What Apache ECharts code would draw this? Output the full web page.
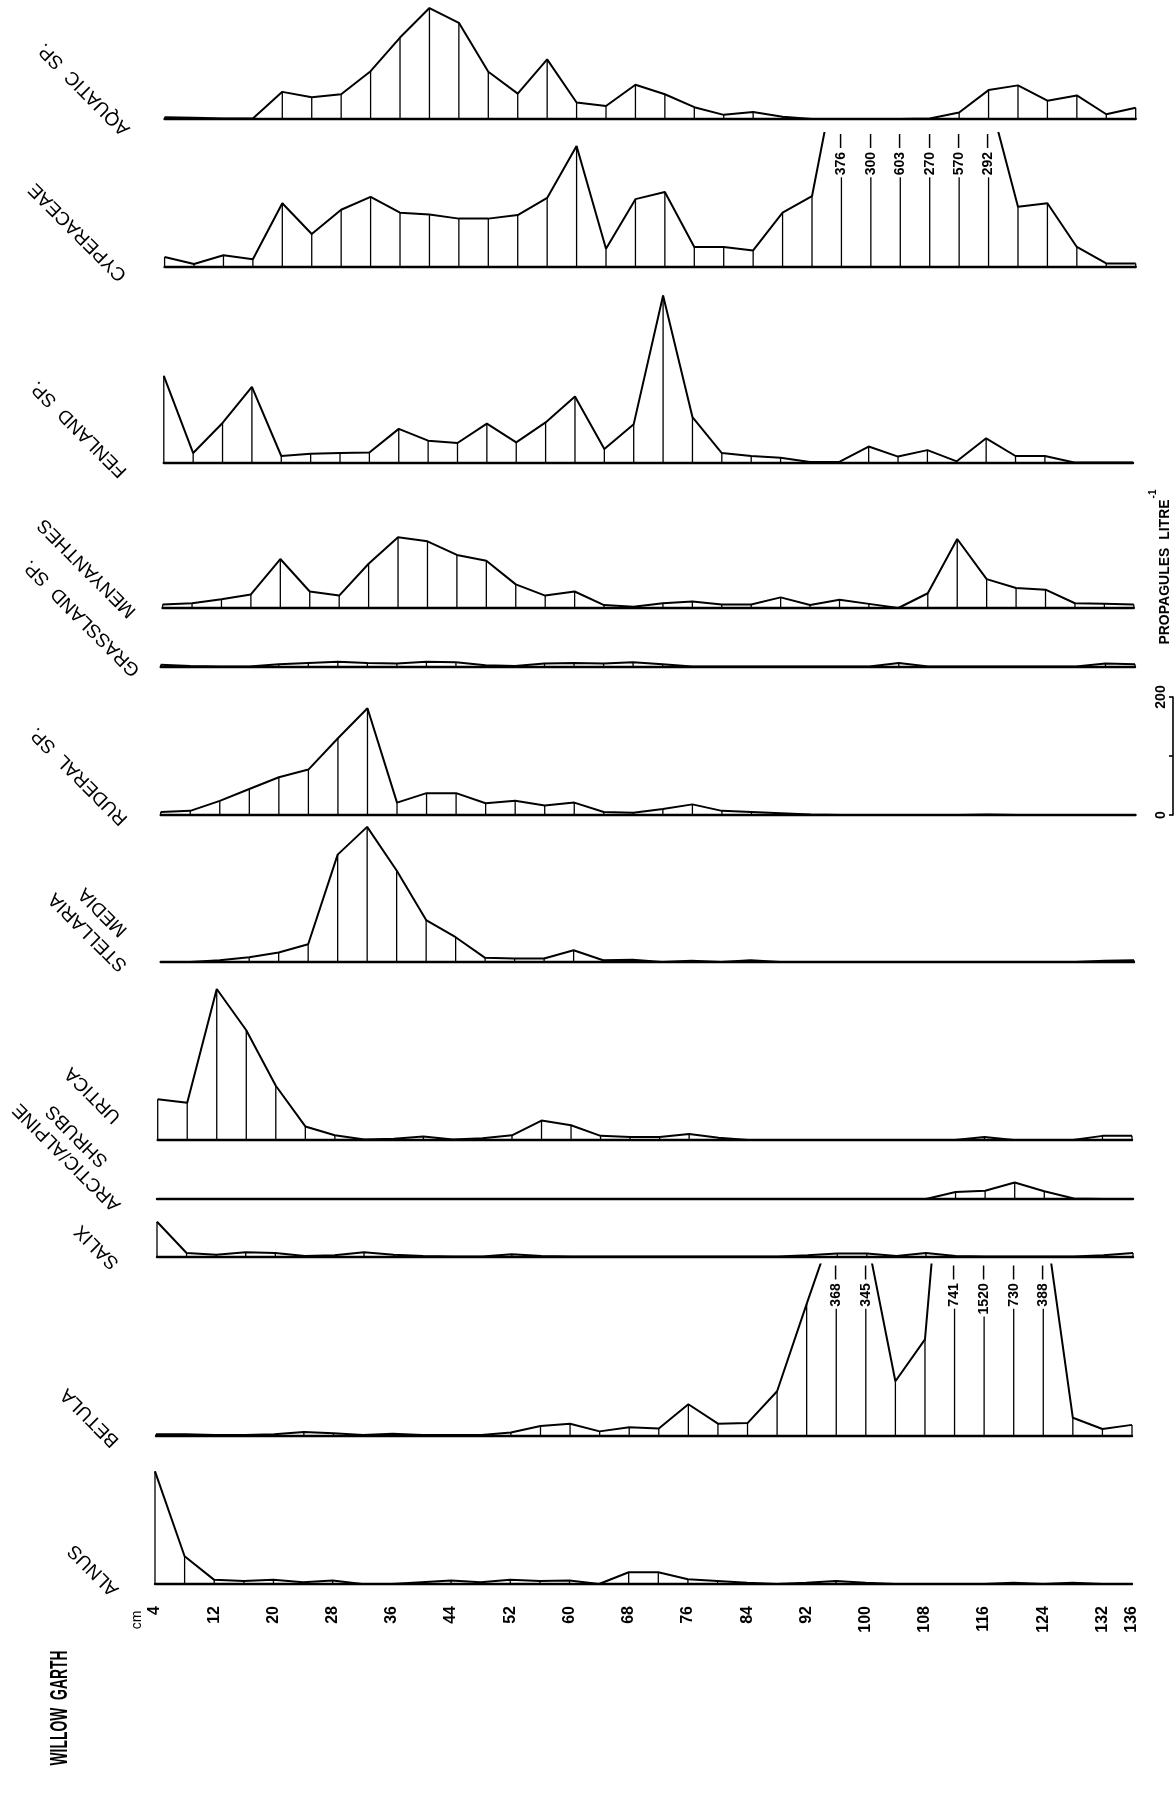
<!DOCTYPE html>
<html>
<head>
<meta charset="utf-8">
<title>Willow Garth – propagule concentrations</title>
<script src="https://cdn.jsdelivr.net/npm/echarts@6/dist/echarts.min.js"></script>
<style>
  html, body { margin: 0; padding: 0; background: #fff; }
  #chart { width: 1176px; height: 1798px; }
</style>
</head>
<body>
<div id="chart"></div>
<script>
// Sample depths (cm)
const depths = [4, 8, 12, 16, 20, 24, 28, 32, 36, 40, 44, 48, 52, 56, 60, 64, 68,
  72, 76, 80, 84, 88, 92, 96, 100, 104, 108, 112, 116, 120, 124, 128, 132, 136];

// Depth labels written under the diagram
const tickLabels = [4, 12, 20, 28, 36, 44, 52, 60, 68, 76, 84, 92, 100, 108, 116, 124, 132, 136];

// Propagules per litre for each taxon, one value per depth
const aquatic    = [3, 2, 1, 1, 46, 37, 42, 81, 138, 188, 163, 80, 43, 101, 28, 22, 58,
  42, 20, 7, 12, 4, 0, 0, 0, 0, 1, 11, 49, 57, 31, 40, 8, 19];
const cyperaceae = [17, 5, 20, 13, 108, 56, 97, 119, 92, 89, 82, 82, 88, 117, 205, 31, 115,
  127, 34, 34, 28, 92, 120, 376, 300, 603, 270, 570, 292, 102, 108, 34, 6, 6];
const fenland    = [147, 16, 67, 128, 11, 15, 16, 17, 57, 37, 33, 66, 34, 68, 112, 23, 65,
  283, 77, 16, 11, 8, 1, 1, 27, 10, 21, 2, 41, 11, 11, 0, 0, 0];
const menyanthes = [6, 8, 15, 23, 83, 28, 21, 75, 120, 113, 90, 80, 40, 21, 28, 5, 2,
  8, 11, 6, 6, 18, 5, 14, 7, 0, 25, 117, 49, 34, 31, 8, 7, 6];
const grassland  = [3, 1, 0, 0, 4, 6, 8, 6, 5, 8, 7, 2, 1, 5, 6, 5, 7,
  4, 0, 0, 0, 0, 0, 0, 0, 6, 0, 0, 0, 0, 0, 0, 5, 4];
const ruderal    = [5, 7, 24, 44, 64, 77, 130, 181, 21, 37, 37, 20, 24, 16, 21, 5, 4,
  10, 18, 7, 5, 3, 1, 0, 0, 0, 0, 0, 1, 0, 0, 0, 0, 0];
const stellaria  = [0, 0, 3, 8, 16, 30, 182, 229, 155, 71, 42, 7, 6, 6, 20, 3, 4,
  0, 2, 0, 3, 0, 0, 0, 0, 0, 0, 0, 0, 0, 0, 0, 2, 3];
const urtica     = [69, 63, 256, 186, 92, 23, 8, 1, 2, 6, 1, 3, 8, 33, 25, 7, 5,
  5, 10, 4, 0, 0, 0, 0, 0, 0, 0, 0, 5, 0, 0, 0, 7, 7];
const arctic     = [0, 0, 0, 0, 0, 0, 0, 0, 0, 0, 0, 0, 0, 0, 0, 0, 0,
  0, 0, 0, 0, 0, 0, 0, 0, 0, 0, 12, 14, 28, 13, 1, 0, 0];
const salix      = [59, 6, 3, 7, 6, 1, 2, 7, 3, 1, 0, 0, 4, 1, 0, 0, 0,
  0, 0, 0, 0, 0, 2, 5, 5, 1, 6, 1, 0, 0, 0, 0, 2, 6];
const betula     = [2, 2, 1, 1, 2, 6, 4, 1, 3, 1, 1, 1, 5, 16, 20, 7, 14,
  12, 53, 20, 21, 75, 223, 368, 345, 92, 163, 741, 1520, 730, 388, 30, 11, 18];
const alnus      = [191, 47, 7, 5, 7, 3, 6, 0, 0, 3, 6, 3, 7, 5, 6, 0, 20,
  20, 8, 5, 2, 0, 2, 5, 2, 0, 0, 0, 0, 2, 0, 2, 0, 0];

// Common vertical scale: pixels per propagule litre⁻¹ (200 units ≈ 118 px)
const PX = 0.59;
const INK = '#000';

// Panel layout: baseline, horizontal extent, clipping ceiling and taxon name(s)
const panels = [
  { values: aquatic,    left: 164.6, right: 1135.7, base: 119,    max: 200, names: [['AQUATIC  SP.', 84, 89]] },
  { values: cyperaceae, left: 164.6, right: 1135.7, base: 267,    max: 227, names: [['CYPERACEAE', 78, 232]] },
  { values: fenland,    left: 163.8, right: 1133,   base: 462.5,  max: 300, names: [['FENLAND  SP.', 79, 429]] },
  { values: menyanthes, left: 162.6, right: 1133.8, base: 608,    max: 150, names: [['MENYANTHES', 87, 568]] },
  { values: grassland,  left: 160.7, right: 1135,   base: 666.5,  max: 30,  names: [['GRASSLAND  SP.', 82, 618]] },
  { values: ruderal,    left: 160.7, right: 1135.5, base: 815,    max: 200, names: [['RUDERAL  SP.', 79, 776]] },
  { values: stellaria,  left: 160.7, right: 1134,   base: 962,    max: 240, names: [['STELLARIA', 88, 932], ['MEDIA', 103, 912]] },
  { values: urtica,     left: 157.7, right: 1132,   base: 1140,   max: 270, names: [['URTICA', 93, 1095]] },
  { values: arctic,     left: 157,   right: 1133,   base: 1199,   max: 40,  names: [['ARCTIC/ALPINE', 67, 1157], ['SHRUBS', 77, 1136]] },
  { values: salix,      left: 157,   right: 1133,   base: 1256.5, max: 70,  names: [['SALIX', 97, 1247]] },
  { values: betula,     left: 156,   right: 1132,   base: 1435.5, max: 290, names: [['BETULA', 90, 1417.5]] },
  { values: alnus,      left: 155,   right: 1132,   base: 1584,   max: 200, names: [['ALNUS', 93.5, 1570]] }
];

const measureCtx = document.createElement('canvas').getContext('2d');
function textWidth(text, font) {
  measureCtx.font = font;
  return measureCtx.measureText(text).width;
}

const CLIP_FONT = 'bold 14px "Liberation Sans", Arial, sans-serif';

function stemRenderer(maxValue) {
  return function (params, api) {
    const depth = api.value(0);
    const v = api.value(1);
    const p0 = api.coord([depth, 0]);
    if (v <= maxValue) {
      const p1 = api.coord([depth, v]);
      return {
        type: 'line',
        shape: { x1: p0[0], y1: p0[1], x2: p1[0], y2: p1[1] },
        style: { stroke: INK, lineWidth: 1.3 }
      };
    }
    // Off-scale count: print the value at the top and stop the stem beneath it
    const cs = params.coordSys;
    const text = v + ' \u2014';
    const len = textWidth(text, CLIP_FONT);
    const topY = cs.y + 1;
    return {
      type: 'group',
      children: [
        {
          type: 'line',
          shape: { x1: p0[0], y1: p0[1], x2: p0[0], y2: topY + len + 2 },
          style: { stroke: INK, lineWidth: 1.3 }
        },
        {
          type: 'text',
          x: p0[0], y: topY,
          rotation: Math.PI / 2,
          style: { text: text, font: CLIP_FONT, fill: INK, align: 'right', verticalAlign: 'middle' }
        }
      ]
    };
  };
}

const grids = [], xAxes = [], yAxes = [], series = [];
panels.forEach((p, i) => {
  const h = p.max * PX;
  const last = i === panels.length - 1;
  grids.push({ left: p.left, width: p.right - p.left, top: p.base - h, height: h });
  xAxes.push({
    gridIndex: i, type: 'value', min: 4, max: 136, interval: 4,
    axisLine: { show: true, onZero: false, lineStyle: { color: INK, width: 2.4 } },
    axisTick: { show: false },
    splitLine: { show: false },
    axisLabel: last ? {
      show: true, rotate: 90, margin: 22, color: INK,
      fontFamily: '"Liberation Sans", Arial, sans-serif', fontWeight: 'bold', fontSize: 16,
      formatter: v => tickLabels.indexOf(v) >= 0 ? String(v) : ''
    } : { show: false }
  });
  yAxes.push({ gridIndex: i, type: 'value', min: 0, max: p.max, show: false });
  const data = depths.map((d, k) => [d, p.values[k]]);
  series.push({
    type: 'line', xAxisIndex: i, yAxisIndex: i, data: data,
    symbol: 'none', clip: true, silent: true, z: 3,
    lineStyle: { color: INK, width: 2 }
  });
  series.push({
    type: 'custom', xAxisIndex: i, yAxisIndex: i, data: data,
    renderItem: stemRenderer(p.max), silent: true, z: 2
  });
});

// Scale bar: 0–200 propagules per litre on the same vertical scale
const scaleIndex = panels.length;
const scaleBase = 815;
grids.push({ left: 1100, width: 73, top: scaleBase - 200 * PX, height: 200 * PX });
xAxes.push({ gridIndex: scaleIndex, type: 'value', min: 0, max: 1, show: false });
yAxes.push({
  gridIndex: scaleIndex, type: 'value', min: 0, max: 200, interval: 100, position: 'right',
  axisLine: { show: true, onZero: false, lineStyle: { color: INK, width: 1.6 } },
  axisTick: { show: true, inside: true, length: 4, lineStyle: { color: INK, width: 1.6 } },
  axisLabel: { show: false },
  splitLine: { show: false }
});

const chart = echarts.init(document.getElementById('chart'), null, { renderer: 'canvas' });
chart.setOption({
  animation: false,
  backgroundColor: '#fff',
  grid: grids,
  xAxis: xAxes,
  yAxis: yAxes,
  series: series
});

// Text furniture: taxon names, site name, units and scale-bar values
const NAME_FONT = '"Liberation Sans", Arial, sans-serif';
const graphics = [];
panels.forEach(p => {
  p.names.forEach(([text, x, y]) => {
    graphics.push({
      type: 'text', x: x, y: y, rotation: Math.PI * 3 / 4, silent: true,
      style: { text: text, fill: INK, font: '19px ' + NAME_FONT, align: 'center', verticalAlign: 'middle' }
    });
  });
});
graphics.push({
  type: 'text', x: 137, y: 1620, rotation: Math.PI / 2, silent: true,
  style: { text: 'cm', fill: INK, font: '14px ' + NAME_FONT, align: 'center', verticalAlign: 'middle' }
});
graphics.push({
  type: 'text', x: 60.5, y: 1708, rotation: Math.PI / 2, scaleX: 0.58, silent: true,
  style: { text: 'WILLOW  GARTH', fill: INK, font: 'bold 24px ' + NAME_FONT, align: 'center', verticalAlign: 'middle' }
});
graphics.push({
  type: 'text', x: 1165.5, y: 572, rotation: Math.PI / 2, silent: true,
  style: { text: 'PROPAGULES  LITRE', fill: INK, font: 'bold 14px ' + NAME_FONT, align: 'center', verticalAlign: 'middle' }
});
graphics.push({
  type: 'text', x: 1153, y: 494, rotation: Math.PI / 2, silent: true,
  style: { text: '-1', fill: INK, font: 'bold 10px ' + NAME_FONT, align: 'center', verticalAlign: 'middle' }
});
[0, 200].forEach(v => {
  const y = chart.convertToPixel({ yAxisIndex: scaleIndex }, v);
  graphics.push({
    type: 'text', x: 1161, y: y, rotation: Math.PI / 2, silent: true,
    style: { text: String(v), fill: INK, font: 'bold 14px ' + NAME_FONT, align: 'center', verticalAlign: 'middle' }
  });
});
chart.setOption({ graphic: graphics });
</script>
</body>
</html>
